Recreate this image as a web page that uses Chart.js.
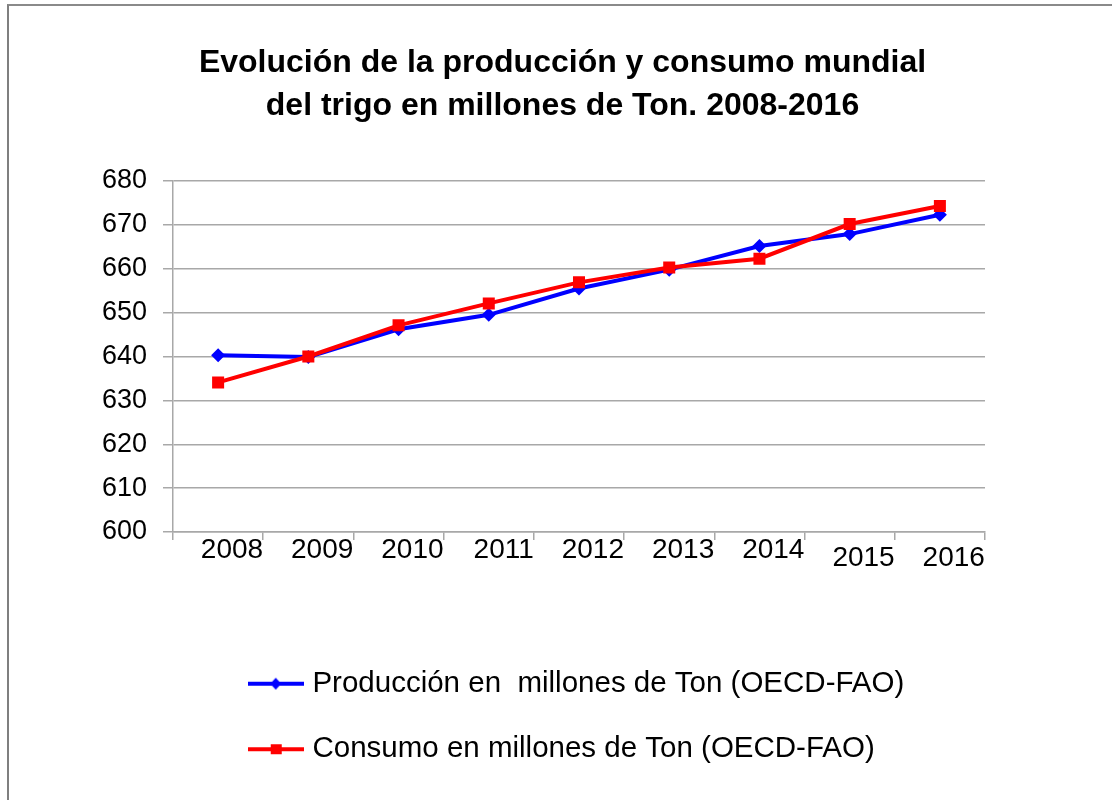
<!DOCTYPE html>
<html>
<head>
<meta charset="utf-8">
<script src="https://cdn.jsdelivr.net/npm/chart.js@4/dist/chart.umd.min.js"></script>
<style>
  html, body { margin: 0; padding: 0; background: #fff; overflow: hidden; width: 1112px; height: 800px; }
  #frame { position: absolute; left: 7px; top: 4px; width: 1120px; height: 810px;
           border-left: 2px solid #7f7f7f; border-top: 2px solid #8a8a8a; }
  #c { position: absolute; left: 9px; top: 6px; }
</style>
</head>
<body>
<div id="frame"></div>
<canvas id="c" width="1107" height="794"></canvas>
<script>
const categories = ['2008','2009','2010','2011','2012','2013','2014','2015','2016'];
const produccion = [640.3, 639.9, 646.2, 649.5, 655.5, 659.8, 665.2, 667.9, 672.3];
const consumo = [634.1, 640.0, 647.1, 652.1, 656.9, 660.3, 662.3, 670.2, 674.3];
const titleLines = ['Evolución de la producción y consumo mundial', 'del trigo en millones de Ton. 2008-2016'];
const seriesNames = ['Producción en  millones de Ton (OECD-FAO)', 'Consumo en millones de Ton (OECD-FAO)'];
const yMin = 600, yMax = 680, yStep = 10;

const FONT = "'Liberation Sans', Arial, sans-serif";

function legendIcon(color, shape) {
  const cv = document.createElement('canvas');
  cv.width = 56; cv.height = 14;
  const g = cv.getContext('2d');
  g.strokeStyle = color; g.lineWidth = 4;
  g.beginPath(); g.moveTo(0, 7); g.lineTo(56, 7); g.stroke();
  g.fillStyle = color;
  if (shape === 'diamond') {
    g.beginPath(); g.moveTo(28, 1); g.lineTo(33.5, 7); g.lineTo(28, 13); g.lineTo(22.5, 7); g.closePath(); g.fill();
  } else {
    g.fillRect(23, 2, 11, 10);
  }
  return cv;
}
const icons = [legendIcon('#0000ff', 'diamond'), legendIcon('#ff0000', 'square')];

const alignLegendRows = {
  id: 'alignLegendRows',
  afterLayout(chart) {
    const lg = chart.legend;
    if (lg && lg.lineWidths && lg.lineWidths.length) {
      const m = Math.max(...lg.lineWidths);
      lg.lineWidths = lg.lineWidths.map(() => m);
    }
  }
};

new Chart(document.getElementById('c'), {
  type: 'line',
  data: {
    labels: categories,
    datasets: [
      {
        label: seriesNames[0],
        data: produccion,
        borderColor: '#0000ff',
        backgroundColor: '#0000ff',
        borderWidth: 4,
        pointStyle: 'rectRot',
        pointRadius: 7,
        pointHoverRadius: 7,
        pointBorderWidth: 0,
        tension: 0,
        order: 2
      },
      {
        label: seriesNames[1],
        data: consumo,
        borderColor: '#ff0000',
        backgroundColor: '#ff0000',
        borderWidth: 4,
        pointStyle: 'rect',
        pointRadius: 8.5,
        pointHoverRadius: 8.5,
        pointBorderWidth: 0,
        tension: 0,
        order: 1
      }
    ]
  },
  options: {
    responsive: false,
    animation: false,
    layout: { padding: { left: 0, right: 0, top: 0, bottom: 26 } },
    plugins: {
      tooltip: { enabled: false },
      title: {
        display: true,
        text: titleLines,
        color: '#000',
        font: { family: FONT, size: 32, weight: 'bold', lineHeight: 1.344 },
        padding: { top: 36, bottom: 53 }
      },
      legend: {
        display: true,
        position: 'bottom',
        fullSize: false,
        align: 'center',
        labels: {
          color: '#000',
          font: { family: FONT, size: 29.5 },
          usePointStyle: true,
          pointStyleWidth: 44,
          padding: 36,
          sort: (a, b) => a.datasetIndex - b.datasetIndex,
          generateLabels(chart) {
            const items = Chart.defaults.plugins.legend.labels.generateLabels(chart);
            items.forEach(it => { it.pointStyle = icons[it.datasetIndex]; });
            return items;
          }
        }
      }
    },
    scales: {
      x: {
        type: 'category',
        offset: true,
        grid: { display: true, drawOnChartArea: false, drawTicks: true, offset: true, tickLength: 8, color: '#a8a8a8', lineWidth: 1.5 },
        border: { display: true, color: '#a8a8a8', width: 1.5 },
        ticks: {
          color: '#000',
          align: 'end',
          labelOffset: 45,
          padding: 2,
          maxRotation: 0,
          autoSkip: false,
          font: (ctx) => ({ family: FONT, size: 28, lineHeight: (ctx.index >= 7 ? 1.14 : 0.6) })
        },
        afterFit(s) { s.height = 101; }
      },
      y: {
        type: 'linear',
        position: 'left',
        min: yMin,
        max: yMax,
        grid: { color: '#a8a8a8', lineWidth: 1.5, tickLength: 10 },
        border: { display: true, color: '#a8a8a8', width: 1.5 },
        ticks: {
          stepSize: yStep,
          color: '#000',
          padding: 16,
          font: { family: FONT, size: 27 }
        },
        afterFit(s) { s.width = 164; }
      },
      yR: {
        type: 'linear',
        position: 'right',
        display: true,
        grid: { display: false },
        border: { display: false },
        ticks: { display: false },
        afterFit(s) { s.width = 131; }
      }
    }
  },
  plugins: [alignLegendRows]
});
</script>
</body>
</html>
